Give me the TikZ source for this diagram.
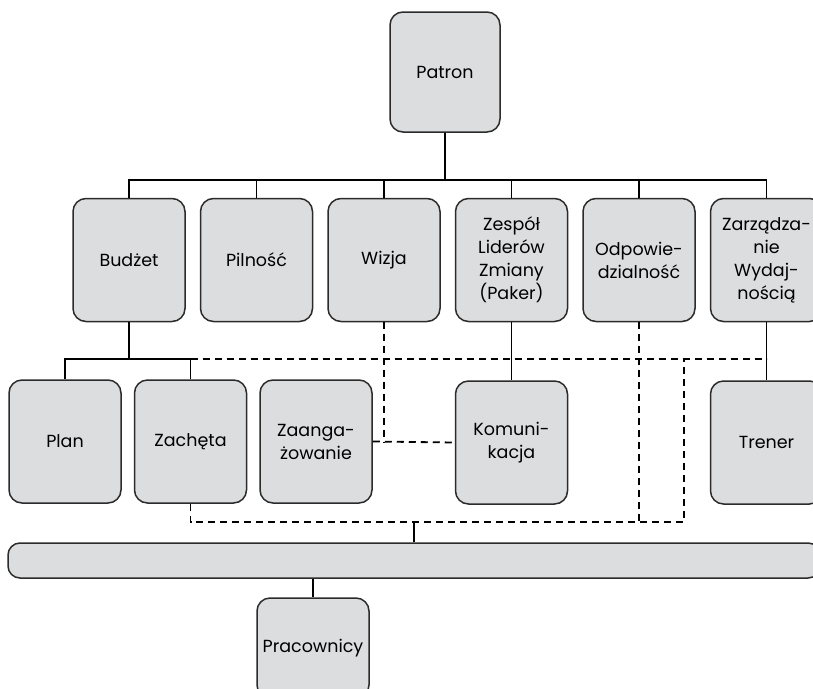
\documentclass[tikz,border=0pt]{standalone}
\usepackage{fontspec}
\setmainfont{Poppins}
\usetikzlibrary{positioning,calc}
\definecolor{boxgray}{HTML}{DCDDDF}
\definecolor{linegray}{HTML}{2B2B2B}
\tikzset{
  x=1pt, y=-1pt, node distance=14pt,
  box_n/.style = {draw=linegray, fill=boxgray, rounded corners=13pt, line width=1.5pt,
    minimum width=112pt, minimum height=123pt, align=center, inner sep=0pt,
    font=\fontsize{17.5}{23}\selectfont},
  bus_n/.style = {box_n, minimum width=812pt, minimum height=35pt, rounded corners=12pt},
  con_s/.style = {draw=black, line width=1.8pt},
  con_d/.style = {con_s, dash pattern=on 7pt off 5pt}
}

\begin{document}
\begin{tikzpicture}
\useasboundingbox (0,0) rectangle (813,688);
\node [box_n, minimum width=110pt, minimum height=120pt] (patron) at (445,72) {Patron};

\node [box_n] (budzet) at (129,260) {Budżet};
\node [box_n, right=of budzet] (pilnosc) {Pilność};
\node [box_n, right=of pilnosc] (wizja) {Wizja};
\node [box_n, right=of wizja] (zespol) {Zespół\\Liderów\\Zmiany\\(Paker)};
\node [box_n, right=of zespol] (odpow) {Odpowie-\\dzialność};
\node [box_n, right=of odpow] (zarz) {Zarządza-\\nie\\Wydaj-\\nością};

\node [box_n] (plan) at (65,441.5) {Plan};
\node [box_n, right=12pt of plan] (zacheta) {Zachęta};
\node [box_n, right=12pt of zacheta] (zaang) {Zaanga-\\żowanie};
\node [box_n, below=58pt of zespol] (komunik) {Komuni-\\kacja};
\node [box_n, below=58pt of zarz] (trener) {Trener};

\node [bus_n] (bus) at (414,560.5) {};
\node [box_n, minimum height=100pt] (prac) at (313,648) {Pracownicy};

\coordinate (t_bar) at (445,180);
\draw [con_s] (patron.south) -- (t_bar);
\draw [con_s] (budzet.north) |- (t_bar) -| (zarz.north);
\foreach \n in {pilnosc,wizja,zespol,odpow}
  \draw [con_s] (\n.north) -- (\n.north |- t_bar);

\draw [con_s] (budzet.south) -- ++(0,37) coordinate (b_bar);
\draw [con_s] (plan.north) |- (b_bar) -| (zacheta.north);
\draw [con_d] (zacheta.north |- b_bar) -- (trener.north |- b_bar);
\draw [con_s] (zarz.south) -- (trener.north);
\draw [con_s] (zespol.south) -- (komunik.north);
\draw [con_d] (zaang.east) -- (komunik.west);
\draw [con_d] (wizja.south) -- (wizja.south |- komunik.west);

\coordinate (d_bar) at (684,522);
\draw [con_d] (zacheta.south) |- (d_bar) -- (d_bar |- b_bar);
\draw [con_d] (odpow.south) -- (odpow.south |- d_bar);
\draw [con_s] (bus.north) -- (bus.north |- d_bar);
\draw [con_s] (prac.north) -- (prac.north |- bus.south);
\end{tikzpicture}
\end{document}
